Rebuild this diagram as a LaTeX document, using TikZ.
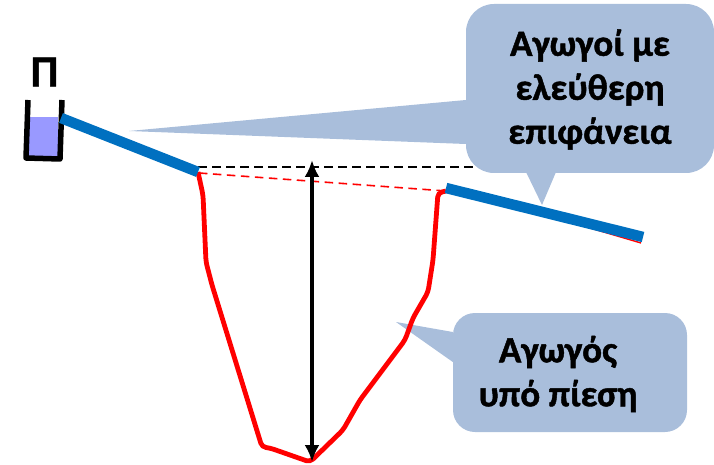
\documentclass[tikz,border=0pt]{standalone}
\usepackage{fontspec}
\setmainfont{Carlito}[BoldFeatures={FakeBold=1.2}]
\usetikzlibrary{arrows.meta, positioning}
\definecolor{calloutblue}{HTML}{A9BEDB}
\definecolor{pipeblue}{HTML}{0070C0}
\definecolor{waterblue}{HTML}{9999FF}

\begin{document}
\begin{tikzpicture}[
		x=1pt, y=-1pt,
		callout/.style={rectangle, rounded corners=28pt, fill=calloutblue, inner sep=0pt},
		calloutlabel/.style={inner sep=0pt, align=center, font=\bfseries\fontsize{37}{44}\selectfont},
		pipe/.style={draw=pipeblue, line width=10.5pt},
		dashline/.style={dash pattern=on 8.5pt off 5.5pt, line width=1.6pt},
		siphon/.style={red, line width=4.8pt, rounded corners=4pt}
		]
		\useasboundingbox (0,0) rectangle (714,465);
		% vessel
		\fill [waterblue] (29,117) rectangle (58,158);
		\draw [line width=5.5pt, line join=round] (28,100) -- (26,158) -- (60,159) -- (62,100);
		\node (vesselname) at (44.5,72) {\bfseries\fontsize{44}{44}\selectfont Π};
		% points of the pipes
		\coordinate (inlet) at (61,118);
		\coordinate (siphon start) at (198,172);
		\coordinate (siphon end) at (446,188);
		\coordinate (outlet) at (643,237);
		% callouts
		\node [callout, minimum width=248pt, minimum height=169pt] (open channels) at (590,88.5) {};
		\node [callout, minimum width=234pt, minimum height=119pt, rounded corners=22pt] (pressure pipe) at (570,372.5) {};
		\coordinate (open tip) at (129,131);
		\coordinate (down tip) at (542,205);
		\coordinate (pressure tip) at (396,322);
		\fill [calloutblue] (open tip) -- (open channels.west |- 0,100) -- (open channels.west |- 0,144) -- cycle;
		\fill [calloutblue] (down tip) -- (526,172) -- (556,172) -- cycle;
		\fill [calloutblue] (pressure tip) -- (pressure pipe.west |- 0,332) -- (pressure pipe.west |- 0,362) -- cycle;
		\node [calloutlabel] (open text) at (590,89.5) {Αγωγοί με\\ελεύθερη\\επιφάνεια};
		\node [calloutlabel] (pressure text) at (558,374) {Αγωγός\\υπό πίεση};
		% siphon
		\draw [siphon] (siphon start) -- (203,195) -- (206,262) -- (212,285) -- (262,447) -- (270,448) -- (310,462) -- (343,430) -- (360,400) -- (405,340) -- (413,318) -- (428,292) -- (433,260) -- (438,193) -- (446,191);
		\draw [red, line width=1.4pt] (590,228) -- (641,243);
		\draw [dashline] (siphon start |- 0,167) coordinate (head left) -- (475,167) coordinate (head right);
		\draw [dashline, red] (199,173) coordinate (slope left) -- (446,191) coordinate (slope right);
		\coordinate (head top) at (312,160);
		\coordinate (head bottom) at (312,462);
		\draw [{Latex[length=17pt,width=15pt]}-{Latex[length=17pt,width=15pt]}, line width=3.6pt] (head top) -- (head bottom);
		% pipes
		\draw [pipe] (inlet) -- (siphon start);
		\draw [pipe] (siphon end) -- (outlet);
	\end{tikzpicture}
\end{document}
